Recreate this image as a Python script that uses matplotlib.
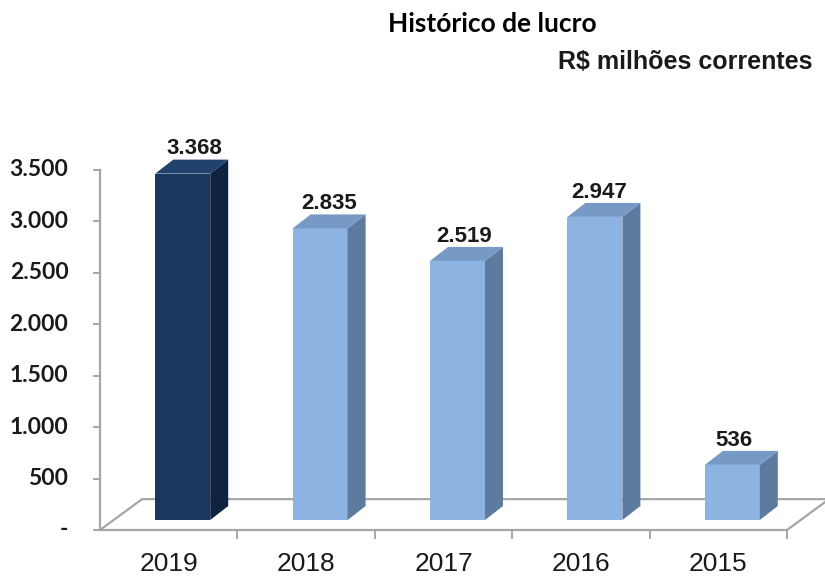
import matplotlib
matplotlib.use('Agg')
import matplotlib.pyplot as plt
from matplotlib.patches import Polygon

# data
years = ['2019', '2018', '2017', '2016', '2015']
lucro = [3368, 2835, 2519, 2947, 536]
labels = ['3.368', '2.835', '2.519', '2.947', '536']
y_ticks = [0, 500, 1000, 1500, 2000, 2500, 3000, 3500]
y_ticklabels = ['-', '500', '1.000', '1.500', '2.000', '2.500', '3.000', '3.500']

# 3d look (in axis units)
floor_dx, floor_dy = 0.306, 300     # floor depth
set_dx, set_dy = 0.102, 97          # bar front face set back
bar_w = 0.40
bar_dx, bar_dy = 0.131, 136         # bar depth

dark = ('#1a375f', '#0f2341', '#21426d')   # front, side, top
light = ('#8db3e2', '#5d7b9f', '#7699c6')
grid_c = '#a6a6a6'

fig = plt.figure(figsize=(8.25, 5.79), dpi=100)
ax = fig.add_axes([100 / 825, 49 / 579, 687 / 825, 360 / 579])
ax.set_xlim(-0.5, 4.5)
ax.set_ylim(0, 3500)
ax.axis('off')

n = len(years)
x0, x1 = -0.5, n - 0.5

# floor
floor = Polygon([(x0, 0), (x1, 0), (x1 + floor_dx, floor_dy), (x0 + floor_dx, floor_dy)],
                closed=True, facecolor='white', edgecolor=grid_c, lw=1.6, clip_on=False, zorder=1)
ax.add_patch(floor)

# value axis
ax.plot([x0, x0], [0, 3500], color=grid_c, lw=1.6, clip_on=False, zorder=2)
tick_len = 0.045
for v, s in zip(y_ticks, y_ticklabels):
    ax.plot([x0 - tick_len, x0], [v, v], color=grid_c, lw=1.4, clip_on=False, zorder=2)
    ax.text(x0 - 0.23, v, s, ha='right', va='center', fontsize=16.5,
            fontweight='bold', family='Lato', color='#1a1a1a')

# category ticks
for i in range(n):
    b = i + 0.5
    ax.plot([b, b], [0, -75], color=grid_c, lw=1.4, clip_on=False, zorder=2)
    ax.text(i, -335, years[i], ha='center', va='center', fontsize=19,
            family='Liberation Sans', color='#1a1a1a')

# bars
for i, v in enumerate(lucro):
    front, side, top = dark if i == 0 else light
    l = i - bar_w / 2 + set_dx
    r = l + bar_w
    b = set_dy
    t = set_dy + v
    ax.add_patch(Polygon([(l, b), (r, b), (r, t), (l, t)], closed=True,
                         facecolor=front, edgecolor='none', zorder=3, clip_on=False))
    ax.add_patch(Polygon([(r, b), (r + bar_dx, b + bar_dy), (r + bar_dx, t + bar_dy), (r, t)],
                         closed=True, facecolor=side, edgecolor='none', zorder=3, clip_on=False))
    ax.add_patch(Polygon([(l, t), (r, t), (r + bar_dx, t + bar_dy), (l + bar_dx, t + bar_dy)],
                         closed=True, facecolor=top, edgecolor='none', zorder=3, clip_on=False))
    # labels drift slightly with the perspective
    ax.text(i + set_dx + 0.087 - 0.018 * i, t + bar_dy + 50, labels[i], ha='center',
            va='baseline', fontsize=16, fontweight='bold', family='Liberation Sans',
            color='#1a1a1a', zorder=4)

fig.text(492 / 825, 1 - 24 / 579, 'Histórico de lucro', ha='center', va='center',
         fontsize=19, fontweight='bold', family='Lato')
fig.text(812 / 825, 1 - 62 / 579, 'R$ milhões correntes', ha='right', va='center',
         fontsize=18, fontweight='bold', family='Liberation Sans', color='#1a1a1a')

fig.savefig('out.png', dpi=100)
